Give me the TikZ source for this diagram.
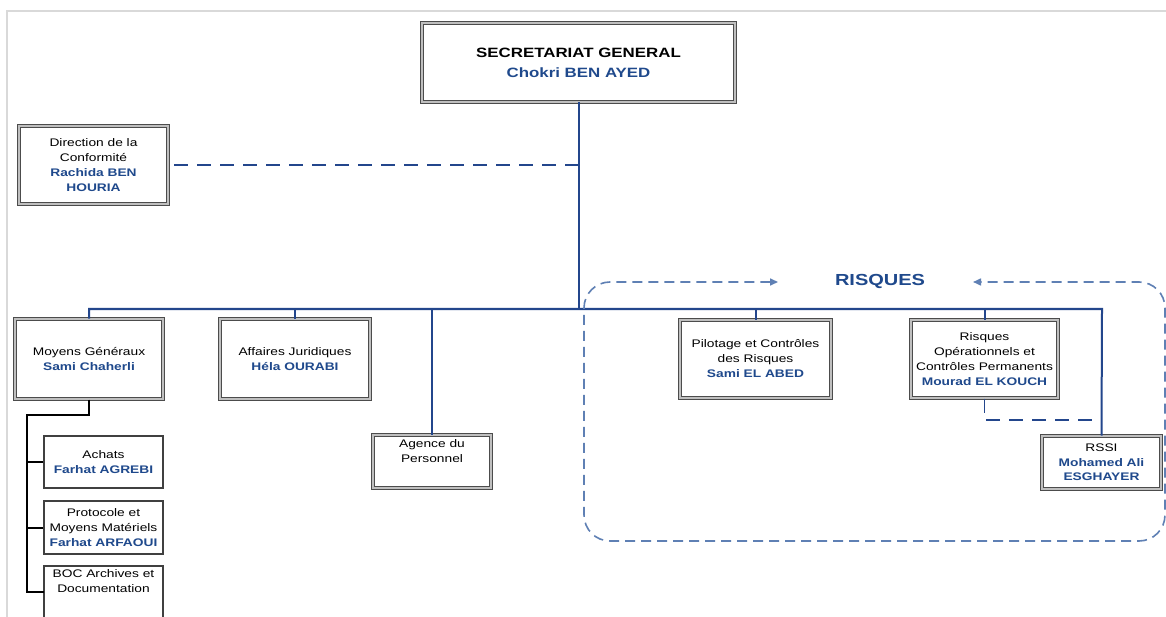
\documentclass[tikz,border=0pt]{standalone}
\usepackage{fontspec}
\setmainfont{Liberation Sans}[FakeStretch=1.25]
\usetikzlibrary{arrows.meta}
\definecolor{nameblue}{RGB}{31,73,140}
\definecolor{lineblue}{RGB}{35,70,140}
\definecolor{dashblue}{RGB}{95,128,180}
\newcommand\pname[1]{\textcolor{nameblue}{\bfseries #1}}
\begin{document}
\begin{tikzpicture}[x=1pt,y=-1pt,
  boxfont/.style={font=\fontsize{11}{15}\selectfont},
  dbox/.style={rectangle, draw=black!70, double=black!25, double distance=1.3pt, line width=1pt, fill=white, inner sep=0pt, align=center, boxfont},
  sbox/.style={rectangle, draw=black!75, line width=1.4pt, fill=white, inner sep=0pt, align=center, boxfont},
  conn/.style={draw=lineblue, line width=2pt},
  bconn/.style={draw=black, line width=2pt},
  dconn/.style={draw=lineblue, line width=1.6pt, dash pattern=on 14pt off 9pt},
  rdash/.style={draw=dashblue, line width=1.6pt, dash pattern=on 10pt off 6pt, rounded corners=26pt},
  frame/.style={draw=black!15, line width=1.2pt}
]
\clip (0,0) rectangle (1166,617);
\fill[white] (0,0) rectangle (1166,617);
\draw[frame] (7,617) -- (7,11) -- (1166,11);

% boxes
\node[dbox, minimum width=313pt, minimum height=79pt, font=\fontsize{13.5}{20}\selectfont\bfseries] (sg) at (578.5,62.5)
  {SECRETARIAT GENERAL\\\pname{Chokri BEN AYED}};
\node[dbox, minimum width=149pt, minimum height=78pt] (conf) at (93.5,165)
  {Direction de la\\Conformité\\\pname{Rachida BEN}\\\pname{HOURIA}};
\node[dbox, minimum width=148pt, minimum height=80pt] (mg) at (89,359)
  {Moyens Généraux\\\pname{Sami Chaherli}};
\node[dbox, minimum width=150pt, minimum height=80pt] (aj) at (295,359)
  {Affaires Juridiques\\\pname{Héla OURABI}};
\node[dbox, minimum width=118pt, minimum height=53pt] (ag) at (432,461.5)
  {\parbox[t][44pt][t]{110pt}{\centering Agence du\\Personnel}};
\node[dbox, minimum width=151pt, minimum height=78pt] (pil) at (755.5,359)
  {Pilotage et Contrôles\\des Risques\\\pname{Sami EL ABED}};
\node[dbox, minimum width=147pt, minimum height=78pt] (rop) at (984.5,359)
  {Risques\\Opérationnels et\\Contrôles Permanents\\\pname{Mourad EL KOUCH}};
\node[dbox, minimum width=119pt, minimum height=53pt, font=\fontsize{11}{14.5}\selectfont] (rssi) at (1101.5,462.5)
  {RSSI\\\pname{Mohamed Ali}\\\pname{ESGHAYER}};
\node[sbox, minimum width=119pt, minimum height=52pt] (ach) at (103.5,462)
  {Achats\\\pname{Farhat AGREBI}};
\node[sbox, minimum width=119pt, minimum height=53pt] (pro) at (103.5,527.5)
  {Protocole et\\Moyens Matériels\\\pname{Farhat ARFAOUI}};
\node[sbox, minimum width=119pt, minimum height=74pt] (boc) at (103.5,603)
  {\parbox[t][66pt][t]{115pt}{\centering BOC Archives et\\Documentation}};

\node[font=\fontsize{16}{18}\selectfont\bfseries, text=nameblue, inner sep=0pt] (risq) at (880,281) {RISQUES};

% coordinates
\coordinate (busL) at (89,309);
\coordinate (busR) at (1102,309);
\coordinate (ropj) at (1102,420);
\coordinate (mgc) at (27,415);
\coordinate (mgb) at (27,592);
\coordinate (bocj) at (44,592);
\coordinate (ltip) at (778,282);
\coordinate (rtip) at (973,282);
\coordinate (rTL) at (584,282);
\coordinate (rBL) at (584,541);
\coordinate (rBR) at (1165,541);
\coordinate (rTR) at (1165,282);

% connectors
\draw[conn] (sg.south) -- (sg.south |- busL);
\draw[conn] (mg.north) -- (busL) -- (busR) -- (rssi.north);
\draw[conn] (aj.north) -- (aj.north |- busL);
\draw[conn] (ag.north) -- (ag.north |- busL);
\draw[conn] (pil.north) -- (pil.north |- busL);
\draw[conn] (rop.north) -- (rop.north |- busL);
\draw[dconn] (conf.east -| sg.south) -- (conf.east);
\draw[dconn] (rop.south) |- (ropj);
\draw[bconn] (mg.south) |- (mgc) -- (mgb) -- (bocj);
\draw[bconn] (ach.west) -- (ach.west -| mgc);
\draw[bconn] (pro.west) -- (pro.west -| mgc);

% RISQUES group
\draw[rdash, {Triangle[length=8pt,width=7pt]}-{Triangle[length=8pt,width=7pt]}]
  (ltip) -- (rTL) -- (rBL) -- (rBR) -- (rTR) -- (rtip);
\end{tikzpicture}
\end{document}
